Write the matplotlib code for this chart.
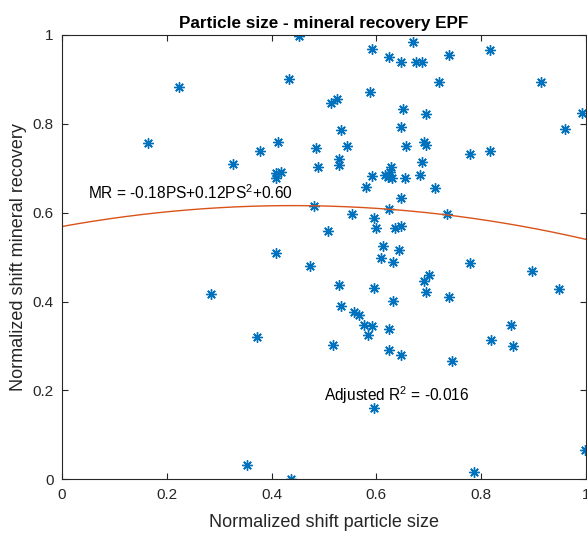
import numpy as np
import matplotlib.pyplot as plt

# normalized shift particle size (PS) and mineral recovery (MR), EPF
ps = [0.224, 0.433, 0.452, 0.165, 0.378, 0.412, 0.326, 0.408, 0.417, 0.408,
      0.408, 0.284, 0.372, 0.353, 0.437, 0.592, 0.669, 0.625, 0.647, 0.676,
      0.687, 0.739, 0.816, 0.720, 0.914, 0.588, 0.514, 0.525, 0.651, 0.695,
      0.992, 0.532, 0.647, 0.959, 0.485, 0.544, 0.657, 0.691, 0.695, 0.779,
      0.816, 0.529, 0.529, 0.489, 0.687, 0.592, 0.617, 0.622, 0.628, 0.626,
      0.629, 0.654, 0.684, 0.580, 0.712, 0.647, 0.481, 0.554, 0.624, 0.735,
      0.595, 0.599, 0.635, 0.646, 0.507, 0.613, 0.643, 0.609, 0.632, 0.779,
      0.474, 0.896, 0.948, 0.529, 0.595, 0.690, 0.701, 0.695, 0.739, 0.632,
      0.532, 0.558, 0.566, 0.577, 0.592, 0.584, 0.624, 0.856, 0.819, 0.860,
      0.518, 0.624, 0.647, 0.745, 0.596, 0.998, 0.786]
mr = [0.882, 0.900, 0.998, 0.758, 0.739, 0.760, 0.710, 0.689, 0.692, 0.679,
      0.510, 0.417, 0.320, 0.033, 0.001, 0.968, 0.985, 0.950, 0.939, 0.940,
      0.939, 0.956, 0.966, 0.895, 0.895, 0.872, 0.848, 0.855, 0.833, 0.823,
      0.825, 0.787, 0.793, 0.788, 0.746, 0.750, 0.750, 0.760, 0.753, 0.732,
      0.739, 0.720, 0.707, 0.704, 0.714, 0.682, 0.686, 0.680, 0.704, 0.692,
      0.677, 0.679, 0.686, 0.657, 0.655, 0.634, 0.614, 0.596, 0.608, 0.598,
      0.587, 0.566, 0.566, 0.569, 0.558, 0.526, 0.516, 0.499, 0.490, 0.486,
      0.481, 0.469, 0.428, 0.437, 0.430, 0.446, 0.460, 0.422, 0.411, 0.401,
      0.391, 0.376, 0.369, 0.348, 0.344, 0.324, 0.339, 0.347, 0.314, 0.300,
      0.302, 0.290, 0.280, 0.266, 0.160, 0.065, 0.016]

# quadratic fit, constant / linear / square terms
fit_coef = [0.569, 0.2135, -0.2425]
fit_label = 'MR = -0.18PS+0.12PS$^2$+0.60'
r2_label = 'Adjusted R$^2$ = -0.016'

plt.rcParams['font.family'] = ['Liberation Sans', 'DejaVu Sans']
plt.rcParams['mathtext.fontset'] = 'custom'
plt.rcParams['mathtext.rm'] = 'Liberation Sans'

fig = plt.figure(figsize=(5.87, 5.34), dpi=100)
ax = fig.add_axes([0.1056, 0.1024, 0.8927, 0.8321])

ax.plot(ps, mr, linestyle='none', marker=(8, 2, 0), markersize=7.5,
        markeredgewidth=1.0, color='#0072BD')

xs = np.linspace(0, 1, 200)
ax.plot(xs, fit_coef[0] + fit_coef[1] * xs + fit_coef[2] * xs ** 2,
        color='#D95319', linewidth=1.0)

ax.text(0.05, 0.645, fit_label, fontsize=11.2, va='center', ha='left', color='#000000')
ax.text(0.5, 0.19, r2_label, fontsize=11.2, va='center', ha='left', color='#000000')

ax.set_xlim(0, 1)
ax.set_ylim(0, 1)
ax.set_xticks([0, 0.2, 0.4, 0.6, 0.8, 1])
ax.set_yticks([0, 0.2, 0.4, 0.6, 0.8, 1])
ax.set_xticklabels(['0', '0.2', '0.4', '0.6', '0.8', '1'])
ax.set_yticklabels(['0', '0.2', '0.4', '0.6', '0.8', '1'])
ax.tick_params(direction='in', top=True, right=True, length=4, width=0.8,
               labelsize=11, colors='#262626', pad=6)
for s in ax.spines.values():
    s.set_color('#262626')
    s.set_linewidth(0.8)

ax.set_title('Particle size - mineral recovery EPF', fontsize=12.3, fontweight='bold', pad=5)
ax.set_xlabel('Normalized shift particle size', fontsize=13, color='#262626', labelpad=9)
ax.set_ylabel('Normalized shift mineral recovery', fontsize=13, color='#262626', labelpad=4)

fig.savefig('out.png', dpi=100)
